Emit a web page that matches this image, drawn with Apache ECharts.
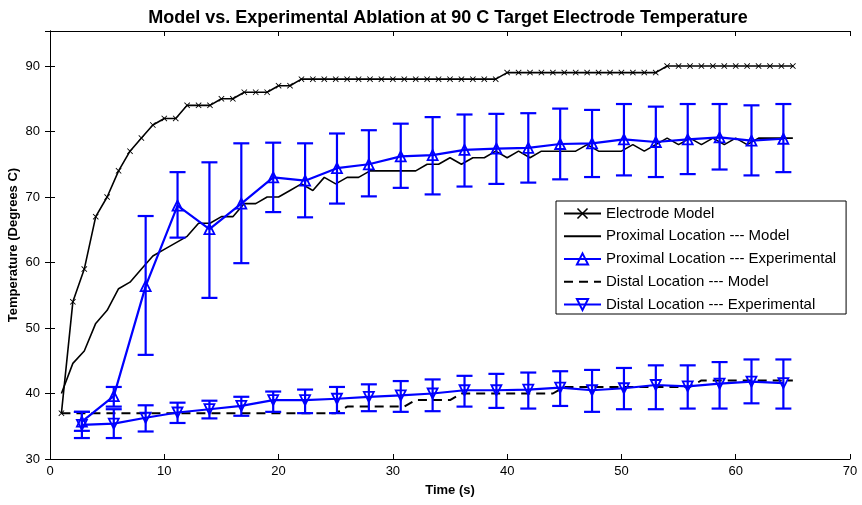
<!DOCTYPE html>
<html>
<head>
<meta charset="utf-8">
<script src="https://cdn.jsdelivr.net/npm/echarts@6/dist/echarts.min.js"></script>
<style>
html,body{margin:0;padding:0;background:#fff;}
#chart{width:862px;height:505px;}
</style>
</head>
<body>
<div id="chart"></div>
<script>
// ---- Data ----
const modelTimes = [1,2,3,4,5,6,7,8,9,10,11,12,13,14,15,16,17,18,19,20,21,22,23,24,25,26,27,28,29,30,31,32,33,34,35,36,37,38,39,40,41,42,43,44,45,46,47,48,49,50,51,52,53,54,55,56,57,58,59,60,61,62,63,64,65];
const electrodeModel = [37,54,59,67,70,74,77,79,81,82,82,84,84,84,85,85,86,86,86,87,87,88,88,88,88,88,88,88,88,88,88,88,88,88,88,88,88,88,88,89,89,89,89,89,89,89,89,89,89,89,89,89,89,90,90,90,90,90,90,90,90,90,90,90,90];
const proximalModel = [40,44.6,46.5,50.7,52.7,56,57,59,61,62,63,64,66,66,67,67,69,69,70,70,71,72,71,73,72,73,73,74,74,74,74,74,75,75,76,75,76,76,77,76,77,76,77,77,77,77,78,77,77,77,78,77,78,79,78,79,78,79,78,79,78,79,79,79,79];
const distalModel = [37,37,37,37,37,37,37,37,37,37,37,37,37,37,37,37,37,37,37,37,37,37,37,37,37,38,38,38,38,38,38,39,39,39,39,40,40,40,40,40,40,40,40,40,41,41,41,41,41,41,41,41,41,41,41,41,42,42,42,42,42,42,42,42,42];

const expTimes = [2.79,5.58,8.37,11.16,13.95,16.74,19.53,22.32,25.11,27.9,30.69,33.48,36.27,39.06,41.85,44.64,47.43,50.22,53.01,55.8,58.59,61.38,64.17];
const proximalExp = [35.7,39.6,56.4,68.7,65.1,69.0,73.0,72.5,74.4,75.0,76.2,76.4,77.2,77.4,77.5,78.1,78.2,78.8,78.4,78.8,79.1,78.6,78.9];
const proximalUpper = [37.2,41.0,67.1,73.8,75.3,78.2,78.3,78.2,79.7,80.2,81.2,82.2,82.6,82.7,82.8,83.5,83.3,84.2,83.8,84.2,84.2,84.0,84.2];
const proximalLower = [34.3,38.0,45.9,63.8,54.6,59.9,67.7,66.9,69.0,70.1,71.4,70.4,71.6,72.0,72.2,72.7,73.05,73.3,73.05,73.5,74.2,73.3,73.8];
const distalExp = [35.2,35.4,36.3,37.1,37.6,38.1,39.0,39.0,39.2,39.5,39.7,40.0,40.5,40.5,40.6,40.9,40.5,40.8,41.3,41.1,41.5,41.8,41.6];
const distalUpper = [37.2,37.6,38.2,38.6,38.9,39.5,40.3,40.6,41.0,41.4,41.9,42.15,42.7,43.0,43.2,43.4,43.6,43.9,44.3,44.3,44.8,45.2,45.2];
const distalLower = [33.2,33.2,34.2,35.5,36.2,36.6,37.2,37.0,37.0,37.3,37.2,37.3,38.0,37.8,37.7,38.1,37.2,37.6,37.6,37.7,37.7,38.5,37.7];

const titleText = 'Model vs. Experimental Ablation at 90 C Target Electrode Temperature';
const xName = 'Time (s)';
const yName = 'Temperature (Degrees C)';
const seriesNames = ['Electrode Model','Proximal Location --- Model','Proximal Location --- Experimental','Distal Location --- Model','Distal Location --- Experimental'];

// ---- Build ----
const FONT = '"Liberation Sans", Arial, sans-serif';
const BLUE = '#0000ff';
const pairs = (xs, ys) => xs.map((x, i) => [x, ys[i]]);
const bars = (xs, lo, hi) => xs.map((x, i) => [x, lo[i], hi[i]]);
const crossPath = 'path://M0,1L1,0L5,4L9,0L10,1L6,5L10,9L9,10L5,6L1,10L0,9L4,5Z';

function errRender(params, api) {
  const x = api.value(0);
  const pLo = api.coord([x, api.value(1)]);
  const pHi = api.coord([x, api.value(2)]);
  const hw = 8;
  const st = { stroke: BLUE, lineWidth: 2.2, fill: null };
  return {
    type: 'group',
    children: [
      { type: 'line', shape: { x1: pLo[0], y1: pLo[1], x2: pHi[0], y2: pHi[1] }, style: st },
      { type: 'line', shape: { x1: pLo[0] - hw, y1: pLo[1], x2: pLo[0] + hw, y2: pLo[1] }, style: st },
      { type: 'line', shape: { x1: pHi[0] - hw, y1: pHi[1], x2: pHi[0] + hw, y2: pHi[1] }, style: st }
    ]
  };
}

const axisCommon = {
  axisLine: { show: true, lineStyle: { color: '#000', width: 1 } },
  axisTick: { show: true, inside: true, length: 5, lineStyle: { color: '#000' } },
  splitLine: { show: false }
};

const noSymbol = { opacity: 0 };

const option = {
  animation: false,
  backgroundColor: '#fff',
  textStyle: { fontFamily: FONT },
  title: {
    text: titleText,
    left: 443, top: 4, textAlign: 'center',
    textStyle: { fontFamily: FONT, fontSize: 18, fontWeight: 'bold', color: '#000' }
  },
  grid: { left: 50, top: 31, right: 12, bottom: 46, outerBoundsMode: 'none', containLabel: false },
  legend: {
    orient: 'vertical',
    left: 556, top: 201,
    data: [
      { name: seriesNames[0] },
      { name: seriesNames[1], itemStyle: noSymbol },
      { name: seriesNames[2] },
      { name: seriesNames[3], itemStyle: noSymbol },
      { name: seriesNames[4] }
    ],
    itemWidth: 37, itemHeight: 14, itemGap: 7.75,
    padding: [5, 10, 2, 7],
    borderColor: '#000', borderWidth: 1,
    backgroundColor: '#fff',
    textStyle: { fontFamily: FONT, fontSize: 15, color: '#000' }
  },
  xAxis: [
    Object.assign({
      type: 'value', min: 0, max: 70, interval: 10, position: 'bottom',
      name: xName, nameLocation: 'middle', nameGap: 25, nameMoveOverlap: false,
      nameTextStyle: { fontFamily: FONT, fontSize: 13, fontWeight: 'bold', color: '#000' },
      axisLabel: { color: '#000', fontSize: 13, margin: 6, fontFamily: FONT }
    }, axisCommon),
    Object.assign({
      type: 'value', min: 0, max: 70, interval: 10, position: 'top',
      axisLabel: { show: false }
    }, axisCommon)
  ],
  yAxis: [
    Object.assign({
      type: 'value', min: 30, max: 95.35, interval: 10, position: 'left',
      name: yName, nameLocation: 'middle', nameGap: 30, nameMoveOverlap: false,
      nameTextStyle: { fontFamily: FONT, fontSize: 13, fontWeight: 'bold', color: '#000' },
      axisLabel: { color: '#000', fontSize: 13, margin: 10, fontFamily: FONT, showMaxLabel: false }
    }, axisCommon),
    Object.assign({
      type: 'value', min: 30, max: 95.35, interval: 10, position: 'right',
      axisLabel: { show: false }
    }, axisCommon)
  ],
  series: [
    {
      name: seriesNames[0], type: 'line', data: pairs(modelTimes, electrodeModel),
      symbol: crossPath, symbolSize: 6, showSymbol: true,
      lineStyle: { color: '#000', width: 1.6 },
      itemStyle: { color: '#000' }, z: 3
    },
    {
      name: seriesNames[1], type: 'line', data: pairs(modelTimes, proximalModel),
      showSymbol: false, symbol: 'none',
      lineStyle: { color: '#000', width: 1.6 },
      itemStyle: { color: '#000' }, z: 3
    },
    {
      type: 'custom', data: bars(expTimes, proximalLower, proximalUpper),
      renderItem: errRender, z: 4, silent: true
    },
    {
      name: seriesNames[2], type: 'line', data: pairs(expTimes, proximalExp),
      symbol: 'triangle', symbolSize: 10,
      lineStyle: { color: BLUE, width: 2.2 },
      itemStyle: { color: 'rgba(255,255,255,0)', borderColor: BLUE, borderWidth: 1.8 }, z: 5
    },
    {
      name: seriesNames[3], type: 'line', data: pairs(modelTimes, distalModel),
      showSymbol: false, symbol: 'none',
      lineStyle: { color: '#000', width: 2, type: [9, 6] },
      itemStyle: { color: '#000' }, z: 3
    },
    {
      type: 'custom', data: bars(expTimes, distalLower, distalUpper),
      renderItem: errRender, z: 4, silent: true
    },
    {
      name: seriesNames[4], type: 'line', data: pairs(expTimes, distalExp),
      symbol: 'triangle', symbolRotate: 180, symbolSize: 10,
      lineStyle: { color: BLUE, width: 2.2 },
      itemStyle: { color: 'rgba(255,255,255,0)', borderColor: BLUE, borderWidth: 1.8 }, z: 5
    }
  ]
};

const chart = echarts.init(document.getElementById('chart'), null, { renderer: 'canvas' });
chart.setOption(option);
</script>
</body>
</html>
